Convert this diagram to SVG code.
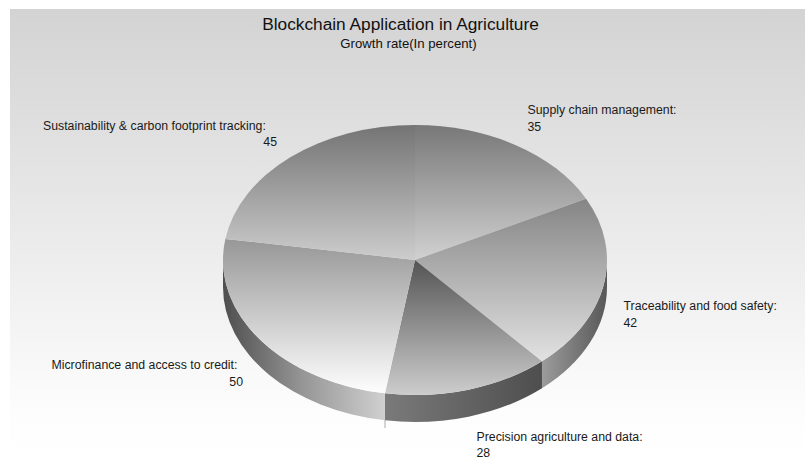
<svg xmlns="http://www.w3.org/2000/svg" width="805" height="460" viewBox="0 0 805 460">
<defs>
<linearGradient id="bg" x1="0" y1="0" x2="0" y2="1">
<stop offset="0" stop-color="#d3d3d3"/><stop offset="0.9" stop-color="#fdfdfd"/><stop offset="1" stop-color="#ffffff"/>
</linearGradient>
<linearGradient id="gSupply" gradientUnits="userSpaceOnUse" x1="0" y1="125" x2="0" y2="262">
<stop offset="0" stop-color="#787878"/><stop offset="1" stop-color="#d2d2d2"/>
</linearGradient>
<linearGradient id="gSust" gradientUnits="userSpaceOnUse" x1="0" y1="125" x2="0" y2="262">
<stop offset="0" stop-color="#747474"/><stop offset="1" stop-color="#cecece"/>
</linearGradient>
<linearGradient id="gTrace" gradientUnits="userSpaceOnUse" x1="0" y1="199" x2="0" y2="362">
<stop offset="0" stop-color="#858585"/><stop offset="1" stop-color="#e2e2e2"/>
</linearGradient>
<linearGradient id="gPrec" gradientUnits="userSpaceOnUse" x1="0" y1="260" x2="0" y2="395">
<stop offset="0" stop-color="#545454"/><stop offset="1" stop-color="#cdcdcd"/>
</linearGradient>
<linearGradient id="gMicro" gradientUnits="userSpaceOnUse" x1="0" y1="239" x2="0" y2="395">
<stop offset="0" stop-color="#979797"/><stop offset="1" stop-color="#ffffff"/>
</linearGradient>
<linearGradient id="sTrace" gradientUnits="userSpaceOnUse" x1="542" y1="0" x2="607" y2="0">
<stop offset="0" stop-color="#9c9c9c"/><stop offset="1" stop-color="#575757"/>
</linearGradient>
<linearGradient id="sPrec" gradientUnits="userSpaceOnUse" x1="385" y1="0" x2="542" y2="0">
<stop offset="0" stop-color="#7a7a7a"/><stop offset="1" stop-color="#4e4e4e"/>
</linearGradient>
<linearGradient id="sMicro" gradientUnits="userSpaceOnUse" x1="223" y1="0" x2="385" y2="0">
<stop offset="0" stop-color="#4e4e4e"/><stop offset="0.5" stop-color="#979797"/><stop offset="1" stop-color="#d0d0d0"/>
</linearGradient>
</defs>
<style>
.lbl{font-family:"Liberation Sans",Arial,sans-serif;font-size:12.3px;fill:#1a1a1a}
.title{font-family:"Liberation Sans",Arial,sans-serif;font-size:17.3px;fill:#111;text-anchor:middle}
.sub{font-family:"Liberation Sans",Arial,sans-serif;font-size:13.2px;fill:#111;text-anchor:middle}
.end{text-anchor:end}
</style>
<rect x="0" y="0" width="805" height="460" fill="#ffffff"/>
<rect x="10" y="9" width="795" height="451" fill="url(#bg)"/>
<text class="title" x="400.5" y="30">Blockchain Application in Agriculture</text>
<text class="sub" x="408.5" y="48">Growth rate(In percent)</text>
<g id="connectors"/>
<g id="slice-supply">
<path d="M415,260 L415,125 A192,135 0 0 1 586.07,198.71 Z" fill="url(#gSupply)"/>
<text class="lbl" x="527.5" y="114">Supply chain management:</text>
<text class="lbl" x="527.5" y="131">35</text>
</g>
<g id="slice-traceability">
<path d="M607,260 A192,135 0 0 1 541.97,361.26 L541.97,388.26 A192,135 0 0 0 607,287 Z" fill="url(#sTrace)"/>
<path d="M415,260 L586.07,198.71 A192,135 0 0 1 541.97,361.26 Z" fill="url(#gTrace)"/>
<text class="lbl" x="623.5" y="310">Traceability and food safety:</text>
<text class="lbl" x="623.5" y="327">42</text>
</g>
<g id="slice-precision">
<path d="M541.97,361.26 A192,135 0 0 1 384.97,393.34 L384.97,420.34 A192,135 0 0 0 541.97,388.26 Z" fill="url(#sPrec)"/>
<path d="M415,260 L541.97,361.26 A192,135 0 0 1 384.97,393.34 Z" fill="url(#gPrec)"/>
<text class="lbl" x="476.5" y="441">Precision agriculture and data:</text>
<text class="lbl" x="476.5" y="457">28</text>
</g>
<g id="slice-microfinance">
<path d="M384.97,393.34 A192,135 0 0 1 223,260 L223,287 A192,135 0 0 0 384.97,420.34 Z" fill="url(#sMicro)"/>
<path d="M415,260 L384.97,393.34 A192,135 0 0 1 225.36,238.88 Z" fill="url(#gMicro)"/>
<line x1="385" y1="420" x2="385" y2="428" stroke="#aaaaaa" stroke-width="1"/>
<text class="lbl" x="51.5" y="369">Microfinance and access to credit:</text>
<text class="lbl end" x="243" y="386">50</text>
</g>
<g id="slice-sustainability">
<path d="M415,260 L225.36,238.88 A192,135 0 0 1 415,125 Z" fill="url(#gSust)"/>
<text class="lbl" x="43" y="130">Sustainability &amp; carbon footprint tracking:</text>
<text class="lbl end" x="277" y="146">45</text>
</g>
</svg>
